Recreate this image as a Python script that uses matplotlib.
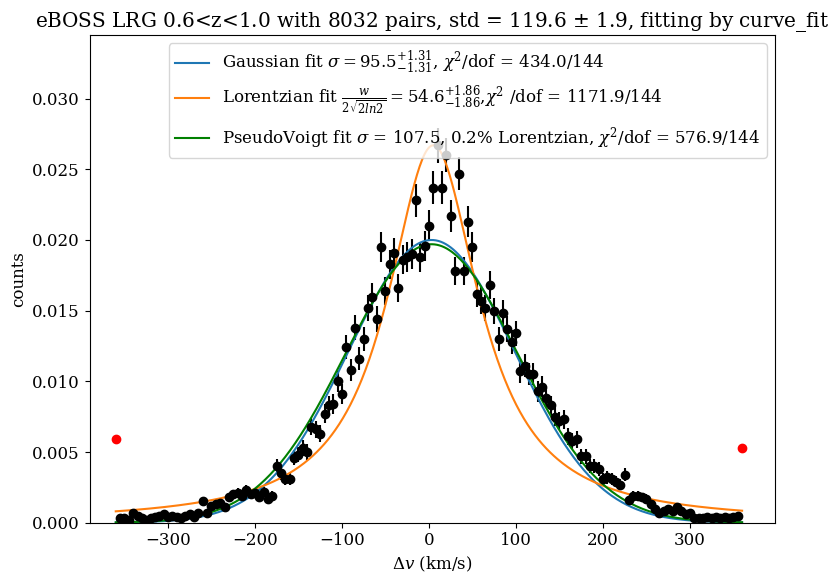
import numpy as np
import matplotlib.pyplot as plt

plt.rcParams["font.family"] = "DejaVu Serif"
plt.rcParams["mathtext.fontset"] = "dejavuserif"
plt.rcParams["font.size"] = 12

# --- données (centres de bins, km/s) ---
dv = np.arange(-355, 356, 5)
counts = [
    0.0003, 0.0003, 0.0002, 0.0007, 0.0005, 0.0003, 0.0002, 0.0003, 0.0004, 0.0005,
    0.0006, 0.0004, 0.0005, 0.0004, 0.0003, 0.0005, 0.0006, 0.0004, 0.0007, 0.0015,
    0.0007, 0.0012, 0.0013, 0.0014, 0.0011, 0.0018, 0.0020, 0.0021, 0.0019, 0.0023,
    0.0020, 0.0021, 0.0018, 0.0022, 0.0017, 0.0019, 0.0040, 0.0035, 0.0031, 0.0031,
    0.0046, 0.0048, 0.0053, 0.0050, 0.0068, 0.0066, 0.0063, 0.0077, 0.0083, 0.0084,
    0.0100, 0.0091, 0.0124, 0.0108, 0.0138, 0.0116, 0.0130, 0.0152, 0.0160, 0.0144,
    0.0195, 0.0164, 0.0183, 0.0191, 0.0166, 0.0186, 0.0188, 0.0190, 0.0228, 0.0188,
    0.0196, 0.0210, 0.0237, 0.0267, 0.0237, 0.0260, 0.0217, 0.0178, 0.0247, 0.0178,
    0.0213, 0.0195, 0.0162, 0.0157, 0.0152, 0.0168, 0.0150, 0.0130, 0.0148, 0.0137,
    0.0128, 0.0134, 0.0107, 0.0111, 0.0105, 0.0105, 0.0093, 0.0096, 0.0088, 0.0083,
    0.0075, 0.0072, 0.0073, 0.0061, 0.0058, 0.0059, 0.0047, 0.0047, 0.0040, 0.0040,
    0.0038, 0.0031, 0.0032, 0.0031, 0.0029, 0.0027, 0.0034, 0.0016, 0.0019, 0.0019,
    0.0018, 0.0017, 0.0013, 0.0010, 0.0007, 0.0008, 0.0010, 0.0008, 0.0011, 0.0008,
    0.0006, 0.0007, 0.0003, 0.0003, 0.0003, 0.0004, 0.0003, 0.0004, 0.0003, 0.0004,
    0.0003, 0.0004, 0.0005,
]
counts = np.array(counts[:len(dv)])
# erreurs de Poisson
err = 0.0012 * np.sqrt(counts / 0.025)

# points hors fit
out_x = [-360, 360]
out_y = [0.0059, 0.0053]

# paramètres des fits
gauss_amp, gauss_sig, gauss_mu = 0.0200, 95.5, 3.0
lor_amp, lor_w, lor_mu = 0.0267, 54.6 * 2 * np.sqrt(2 * np.log(2)), 5.0
pv_amp, pv_sig, pv_mu = 0.0197, 99.0, 3.0

xx = np.linspace(-360, 360, 500)
gauss = gauss_amp * np.exp(-(xx - gauss_mu)**2 / (2 * gauss_sig**2))
lor = lor_amp / (1 + (2 * (xx - lor_mu) / lor_w)**2)
pv = pv_amp * np.exp(-(xx - pv_mu)**2 / (2 * pv_sig**2))

fig, ax = plt.subplots(figsize=(8.38, 5.84), dpi=100)
ax.errorbar(dv, counts, yerr=err, fmt="o", color="black", ms=6, elinewidth=1.5)
ax.plot(out_x, out_y, "o", color="red", ms=6)
ax.plot(xx, gauss, color="tab:blue",
        label=r"Gaussian fit $\sigma = 95.5^{+1.31}_{-1.31}$, $\chi^2$/dof = 434.0/144")
ax.plot(xx, lor, color="tab:orange",
        label=r"Lorentzian fit $\frac{w}{2\sqrt{2ln2}} = 54.6^{+1.86}_{-1.86}$,$\chi^2$ /dof = 1171.9/144")
ax.plot(xx, pv, color="green",
        label=r"PseudoVoigt fit $\sigma$ = 107.5, 0.2% Lorentzian, $\chi^2$/dof = 576.9/144")
ax.set_xlim(-390, 398)
ax.set_ylim(0, 0.0345)
ax.set_xlabel(r"$\Delta v$ (km/s)")
ax.set_ylabel("counts")
ax.set_title(r"eBOSS LRG 0.6<z<1.0 with 8032 pairs, std = 119.6 $\pm$ 1.9, fitting by curve_fit")
ax.legend(loc="upper right")
fig.subplots_adjust(left=0.107, right=0.925, top=0.94, bottom=0.105)
fig.savefig("out.png")
